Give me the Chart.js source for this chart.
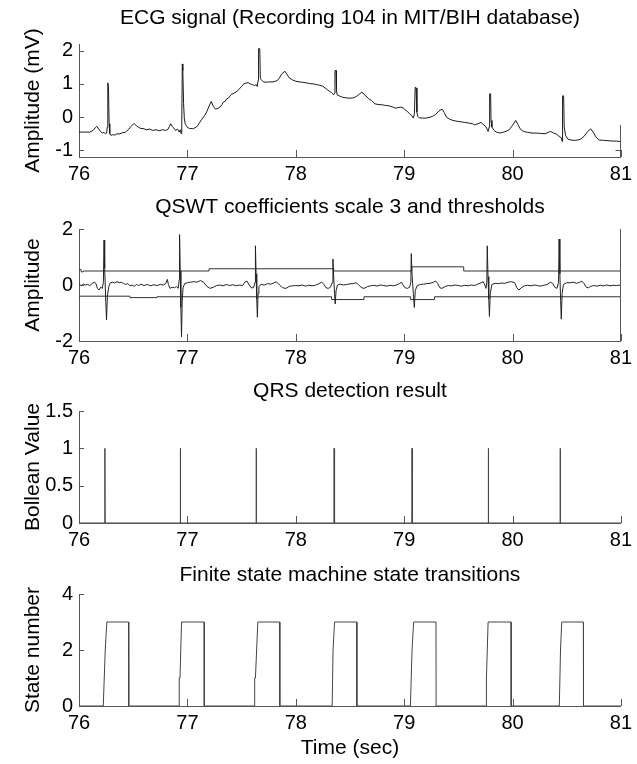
<!DOCTYPE html>
<html><head><meta charset="utf-8">
<script src="https://cdn.jsdelivr.net/npm/chart.js@4/dist/chart.umd.min.js"></script>
<style>
html,body{margin:0;padding:0;background:#fff;}
#wrap{position:relative;width:637px;height:764px;overflow:hidden;}
.c{position:absolute;left:0;width:637px;}
</style></head><body>
<div id="wrap">
<div class="c" style="top:0;height:184px"><canvas id="c1"></canvas></div>
<div class="c" style="top:184px;height:184px"><canvas id="c2"></canvas></div>
<div class="c" style="top:368px;height:184px"><canvas id="c3"></canvas></div>
<div class="c" style="top:552px;height:212px"><canvas id="c4"></canvas></div>
</div>
<script>
// ---------- DATA ----------
const xTicks = [76, 77, 78, 79, 80, 81];

const ecgT = [76.000,76.050,76.100,76.130,76.150,76.164,76.180,76.200,76.215,76.230,76.245,76.255,76.260,76.266,76.272,76.278,76.284,76.294,76.31,76.33,76.35,76.37,76.40,76.43,76.46,76.48,76.50,76.51,76.53,76.55,76.57,76.60,76.62,76.65,76.68,76.71,76.74,76.77,76.80,76.82,76.835,76.846,76.86,76.875,76.89,76.91,76.925,76.935,76.942,76.948,76.953,76.958,76.965,76.972,76.98,76.99,77.00,77.02,77.05,77.07,77.09,77.11,77.13,77.16,77.18,77.20,77.22,77.24,77.26,77.28,77.30,77.32,77.33,77.35,77.36,77.38,77.40,77.41,77.43,77.46,77.48,77.50,77.52,77.54,77.56,77.58,77.60,77.62,77.635,77.645,77.652,77.657,77.668,77.673,77.68,77.70,77.73,77.76,77.79,77.81,77.83,77.85,77.87,77.90,77.92,77.94,77.97,78.00,78.03,78.06,78.10,78.13,78.16,78.19,78.22,78.25,78.27,78.29,78.31,78.33,78.35,78.357,78.362,78.372,78.376,78.382,78.40,78.43,78.46,78.50,78.53,78.56,78.59,78.61,78.64,78.67,78.70,78.73,78.76,78.80,78.83,78.86,78.89,78.92,78.95,78.97,78.99,79.01,79.03,79.05,79.07,79.085,79.095,79.102,79.110,79.118,79.125,79.14,79.17,79.20,79.23,79.26,79.29,79.32,79.35,79.37,79.39,79.42,79.45,79.48,79.52,79.56,79.60,79.63,79.65,79.68,79.71,79.73,79.755,79.775,79.785,79.789,79.798,79.802,79.81,79.83,79.85,79.88,79.91,79.94,79.97,80.00,80.03,80.05,80.07,80.10,80.14,80.18,80.22,80.26,80.30,80.33,80.35,80.38,80.41,80.43,80.45,80.458,80.462,80.472,80.477,80.49,80.51,80.54,80.57,80.60,80.63,80.66,80.69,80.72,80.75,80.77,80.80,80.84,80.88,80.92,80.96,81.00];
const ecgV = [-0.45,-0.45,-0.45,-0.40,-0.32,-0.28,-0.35,-0.44,-0.48,-0.46,-0.50,-0.48,-0.30,1.03,0.90,-0.20,-0.50,-0.55,-0.53,-0.54,-0.50,-0.51,-0.47,-0.45,-0.36,-0.28,-0.21,-0.20,-0.26,-0.31,-0.34,-0.35,-0.38,-0.36,-0.40,-0.38,-0.41,-0.38,-0.40,-0.37,-0.28,-0.20,-0.28,-0.33,-0.40,-0.36,-0.45,-0.38,-0.50,-0.30,1.60,1.40,0.40,-0.05,-0.20,-0.25,-0.31,-0.34,-0.35,-0.32,-0.28,-0.18,-0.08,0.05,0.17,0.33,0.47,0.32,0.24,0.26,0.30,0.38,0.44,0.48,0.54,0.58,0.66,0.69,0.72,0.78,0.85,0.92,1.00,1.02,1.04,1.00,0.98,0.95,0.98,0.92,1.10,2.06,2.06,1.20,1.13,1.06,1.05,1.06,1.06,1.08,1.10,1.18,1.30,1.38,1.28,1.18,1.12,1.08,1.06,1.05,1.03,1.01,1.00,0.98,0.96,0.93,0.88,0.83,0.78,0.74,0.67,0.72,1.40,1.40,0.80,0.67,0.64,0.60,0.58,0.57,0.58,0.62,0.70,0.75,0.66,0.56,0.50,0.40,0.38,0.37,0.35,0.34,0.31,0.27,0.29,0.30,0.28,0.22,0.17,0.10,0.05,-0.03,0.10,0.90,0.88,0.15,0.02,-0.02,-0.03,-0.03,-0.01,0.02,0.08,0.18,0.24,0.14,0.00,-0.06,-0.10,-0.12,-0.14,-0.16,-0.18,-0.20,-0.23,-0.20,-0.16,-0.22,-0.29,-0.43,-0.30,0.70,0.70,-0.10,-0.30,-0.40,-0.45,-0.48,-0.46,-0.43,-0.38,-0.25,-0.10,-0.22,-0.35,-0.43,-0.46,-0.48,-0.48,-0.49,-0.50,-0.46,-0.43,-0.48,-0.52,-0.58,-0.62,-0.73,0.64,0.64,-0.30,-0.55,-0.66,-0.69,-0.70,-0.69,-0.66,-0.58,-0.45,-0.35,-0.48,-0.60,-0.69,-0.70,-0.71,-0.72,-0.72,-0.74];

const qswtT = [76.00,76.02,76.04,76.06,76.08,76.10,76.12,76.14,76.155,76.17,76.185,76.20,76.215,76.225,76.231,76.237,76.247,76.254,76.262,76.275,76.29,76.31,76.33,76.35,76.37,76.39,76.41,76.43,76.45,76.47,76.49,76.51,76.53,76.55,76.57,76.60,76.63,76.66,76.69,76.72,76.75,76.78,76.80,76.815,76.825,76.84,76.86,76.88,76.90,76.915,76.925,76.928,76.934,76.940,76.946,76.952,76.96,76.975,77.00,77.03,77.06,77.09,77.12,77.15,77.18,77.21,77.24,77.27,77.30,77.33,77.36,77.39,77.42,77.45,77.48,77.51,77.53,77.55,77.57,77.59,77.61,77.625,77.628,77.634,77.640,77.646,77.652,77.66,77.68,77.71,77.74,77.77,77.80,77.82,77.85,77.88,77.91,77.94,77.97,78.00,78.03,78.06,78.09,78.12,78.15,78.18,78.21,78.24,78.26,78.28,78.30,78.32,78.338,78.343,78.350,78.358,78.364,78.372,78.385,78.41,78.44,78.47,78.50,78.53,78.56,78.58,78.61,78.63,78.66,78.69,78.72,78.75,78.78,78.81,78.84,78.87,78.90,78.93,78.96,78.975,78.99,79.01,79.03,79.05,79.062,79.066,79.074,79.085,79.094,79.103,79.12,79.15,79.18,79.21,79.24,79.27,79.29,79.31,79.33,79.35,79.38,79.41,79.44,79.47,79.50,79.53,79.56,79.59,79.62,79.65,79.68,79.71,79.73,79.745,79.755,79.763,79.767,79.774,79.781,79.787,79.795,79.81,79.84,79.87,79.90,79.93,79.96,79.99,80.02,80.04,80.06,80.08,80.11,80.14,80.17,80.20,80.23,80.26,80.29,80.32,80.35,80.37,80.39,80.41,80.425,80.430,80.437,80.444,80.450,80.458,80.47,80.50,80.53,80.56,80.59,80.62,80.64,80.66,80.68,80.70,80.72,80.75,80.78,80.81,80.84,80.87,80.90,80.93,80.96,81.00];
const qswtV = [0.02,-0.02,0.03,0.00,0.02,-0.02,0.05,0.10,0.06,-0.12,-0.18,-0.08,-0.12,0.10,1.60,0.60,-0.60,-1.25,-0.40,-0.05,0.08,0.10,0.07,0.12,0.08,0.10,0.06,0.02,0.05,-0.03,0.00,-0.05,0.02,-0.02,0.03,-0.02,0.02,-0.03,0.01,-0.02,0.02,0.00,0.05,0.20,0.02,-0.12,-0.08,-0.10,-0.05,-0.12,0.20,1.80,0.50,-0.80,-1.85,-0.60,-0.10,0.05,0.08,0.10,0.12,0.10,0.16,0.10,-0.05,-0.12,-0.08,-0.02,0.00,-0.03,0.02,-0.02,0.01,-0.03,0.00,-0.02,0.10,0.14,0.00,-0.10,-0.10,0.10,1.40,0.40,-0.50,-1.15,-0.30,-0.05,0.02,0.00,0.05,0.03,0.08,0.12,0.00,-0.10,-0.12,-0.05,-0.03,-0.02,-0.03,0.00,-0.04,-0.01,-0.03,-0.01,0.04,0.10,0.02,-0.10,-0.12,-0.08,0.10,0.93,0.30,-0.30,-0.68,-0.20,0.00,0.03,0.00,0.02,0.04,0.05,0.08,0.00,-0.10,-0.12,-0.06,-0.03,-0.01,-0.04,0.00,-0.02,-0.04,-0.01,-0.03,0.00,0.06,0.10,0.00,-0.10,-0.12,-0.08,0.10,1.12,0.30,-0.30,-0.80,-0.20,-0.02,0.02,0.03,0.05,0.06,0.10,0.14,0.05,-0.10,-0.12,-0.05,-0.02,-0.03,0.00,-0.02,-0.04,-0.01,-0.03,0.00,-0.02,0.03,0.08,0.12,0.00,-0.12,0.10,1.40,0.30,-0.50,-1.12,-0.30,0.02,0.06,0.05,0.07,0.06,0.10,0.12,0.08,-0.10,-0.18,-0.10,-0.03,-0.01,-0.03,0.00,-0.02,-0.04,-0.01,0.02,0.10,0.06,-0.08,-0.12,0.10,1.64,0.40,-0.55,-1.22,-0.30,0.02,0.08,0.08,0.10,0.06,0.10,0.14,0.05,-0.08,-0.10,-0.05,-0.02,-0.04,-0.01,-0.03,0.00,-0.03,-0.01,-0.02,0.00];

const upperT = [76.00,76.02,76.04,77.20,78.35,79.07,79.55,81.00];
const upperV = [0.55,0.47,0.50,0.58,0.50,0.65,0.50,0.50];
const lowerT = [76.00,76.47,76.72,78.33,78.63,79.06,79.28,81.00];
const lowerV = [-0.40,-0.45,-0.42,-0.52,-0.42,-0.52,-0.42,-0.42];

const boolT = [76.000,76.239,76.239,76.241,76.935,76.935,76.937,77.635,77.635,77.637,78.352,78.354,78.358,79.071,79.073,79.077,79.777,79.777,79.779,80.440,80.440,80.442,81.000];
const boolV = [0,0,1,0,0,1,0,0,1,0,0,1,0,0,1,0,0,1,0,0,1,0,0];

const stateT = [76.000,76.224,76.242,76.246,76.257,76.458,76.459,76.924,76.925,76.932,76.946,77.155,77.156,77.620,77.621,77.628,77.650,77.852,77.853,78.336,78.344,78.346,78.358,78.563,78.564,79.058,79.073,79.080,79.088,79.294,79.295,79.756,79.757,79.762,79.775,79.987,79.988,80.432,80.443,80.446,80.454,80.654,80.655,81.000];
const stateV = [0,0,2,2,3,3,0,0,1,1,3,3,0,0,1,1,3,3,0,0,2,2,3,3,0,0,2,2,3,3,0,0,1,1,3,3,0,0,2,2,3,3,0,0];

// ---------- RENDER ----------
const FONT = "'Liberation Sans', Arial, Helvetica, sans-serif";
const AXIS = '#555';
const pts = (t, v) => t.map((x, i) => ({x, y: v[i]}));

const inwardTicks = {
  id: 'inwardTicks',
  afterDraw(chart, args, opts) {
    const {ctx, chartArea: a, scales: {x, y}} = chart;
    ctx.save();
    ctx.strokeStyle = AXIS;
    ctx.lineWidth = 1;
    ctx.beginPath();
    x.ticks.forEach(t => {
      const px = Math.round(x.getPixelForValue(t.value)) + 0.5;
      ctx.moveTo(px, a.bottom); ctx.lineTo(px, a.bottom - 7);
    });
    y.ticks.forEach(t => {
      const py = Math.round(y.getPixelForValue(t.value)) + 0.5;
      ctx.moveTo(a.left, py); ctx.lineTo(a.left + 5, py);
    });
    if (opts && opts.rightFrom !== undefined) {
      const rx = Math.round(a.right) - 0.5;
      ctx.moveTo(rx, y.getPixelForValue(opts.rightFrom));
      ctx.lineTo(rx, a.bottom);
      if (opts.rightTick !== undefined) {
        const py = Math.round(y.getPixelForValue(opts.rightTick)) + 0.5;
        ctx.moveTo(rx, py); ctx.lineTo(rx - 5, py);
      }
    }
    ctx.stroke();
    ctx.restore();
  }
};

function makeChart(id, datasets, o) {
  const titleFont = {family: FONT, size: 21, lineHeight: 1.2, weight: 'normal'};
  const tickFont = {family: FONT, size: 20, lineHeight: 1.2};
  const padTop = o.titleCenter - 12.6;
  const padBottom = o.areaTop - padTop - 25.2;
  return new Chart(document.getElementById(id), {
    type: 'line',
    data: {datasets},
    options: {
      responsive: true, maintainAspectRatio: false, animation: false,
      layout: {padding: {left: 0, right: 14, top: 0, bottom: 0}},
      plugins: {
        legend: {display: false}, tooltip: {enabled: false},
        title: {display: true, fullSize: false, text: o.title, color: '#000', font: titleFont,
                padding: {top: padTop, bottom: padBottom}},
        inwardTicks: o.edge || {}
      },
      elements: {point: {radius: 0}, line: {borderWidth: 1, tension: 0}},
      scales: {
        x: {
          type: 'linear', min: 76, max: 81,
          afterBuildTicks: s => { s.ticks = xTicks.map(v => ({value: v})); },
          ticks: {color: '#000', font: tickFont, padding: 5, maxRotation: 0, autoSkip: false,
                  callback: v => String(v)},
          grid: {display: false, drawTicks: false},
          border: {display: true, color: AXIS, width: 1},
          title: {display: !!o.xTitle, text: o.xTitle || '', color: '#000', font: titleFont, padding: {top: 0, bottom: 3}},
          afterFit: s => { s.height = o.height - o.areaBottom; }
        },
        y: {
          type: 'linear', min: o.yMin, max: o.yMax,
          ticks: {stepSize: o.yStep, includeBounds: false, color: '#000', font: tickFont, padding: 6,
                  callback: v => String(v)},
          grid: {display: false, drawTicks: false},
          border: {display: true, color: AXIS, width: 1},
          title: {display: true, text: o.yTitle, color: '#000', font: titleFont, padding: {top: 21, bottom: 0}},
          afterFit: s => { s.width = 79; }
        }
      }
    },
    plugins: [inwardTicks]
  });
}

makeChart('c1', [
  {data: pts(ecgT, ecgV), borderColor: '#1a1a1a', borderWidth: 1}
], {title: 'ECG signal (Recording 104 in MIT/BIH database)', yTitle: 'Amplitude (mV)',
    yMin: -1.2, yMax: 2.2, yStep: 1, height: 184, titleCenter: 18, areaTop: 44, areaBottom: 157,
    edge: {rightFrom: -0.24, rightTick: -1}});

makeChart('c2', [
  {data: pts(qswtT, qswtV), borderColor: '#222', borderWidth: 1},
  {data: pts(upperT, upperV), borderColor: '#333', borderWidth: 1, stepped: 'before'},
  {data: pts(lowerT, lowerV), borderColor: '#333', borderWidth: 1, stepped: 'before'}
], {title: 'QSWT coefficients scale 3 and thresholds', yTitle: 'Amplitude',
    yMin: -2, yMax: 2, yStep: 2, height: 184, titleCenter: 23, areaTop: 45, areaBottom: 157,
    edge: {rightFrom: 2}});

makeChart('c3', [
  {data: pts(boolT, boolV), borderColor: '#444', borderWidth: 1}
], {title: 'QRS detection result', yTitle: 'Bollean Value',
    yMin: 0, yMax: 1.5, yStep: 0.5, height: 184, titleCenter: 23, areaTop: 43, areaBottom: 155});

makeChart('c4', [
  {data: pts(stateT, stateV), borderColor: '#444', borderWidth: 1}
], {title: 'Finite state machine state transitions', yTitle: 'State number', xTitle: 'Time (sec)',
    yMin: 0, yMax: 4, yStep: 2, height: 212, titleCenter: 23, areaTop: 42, areaBottom: 154});
</script>
</body></html>
